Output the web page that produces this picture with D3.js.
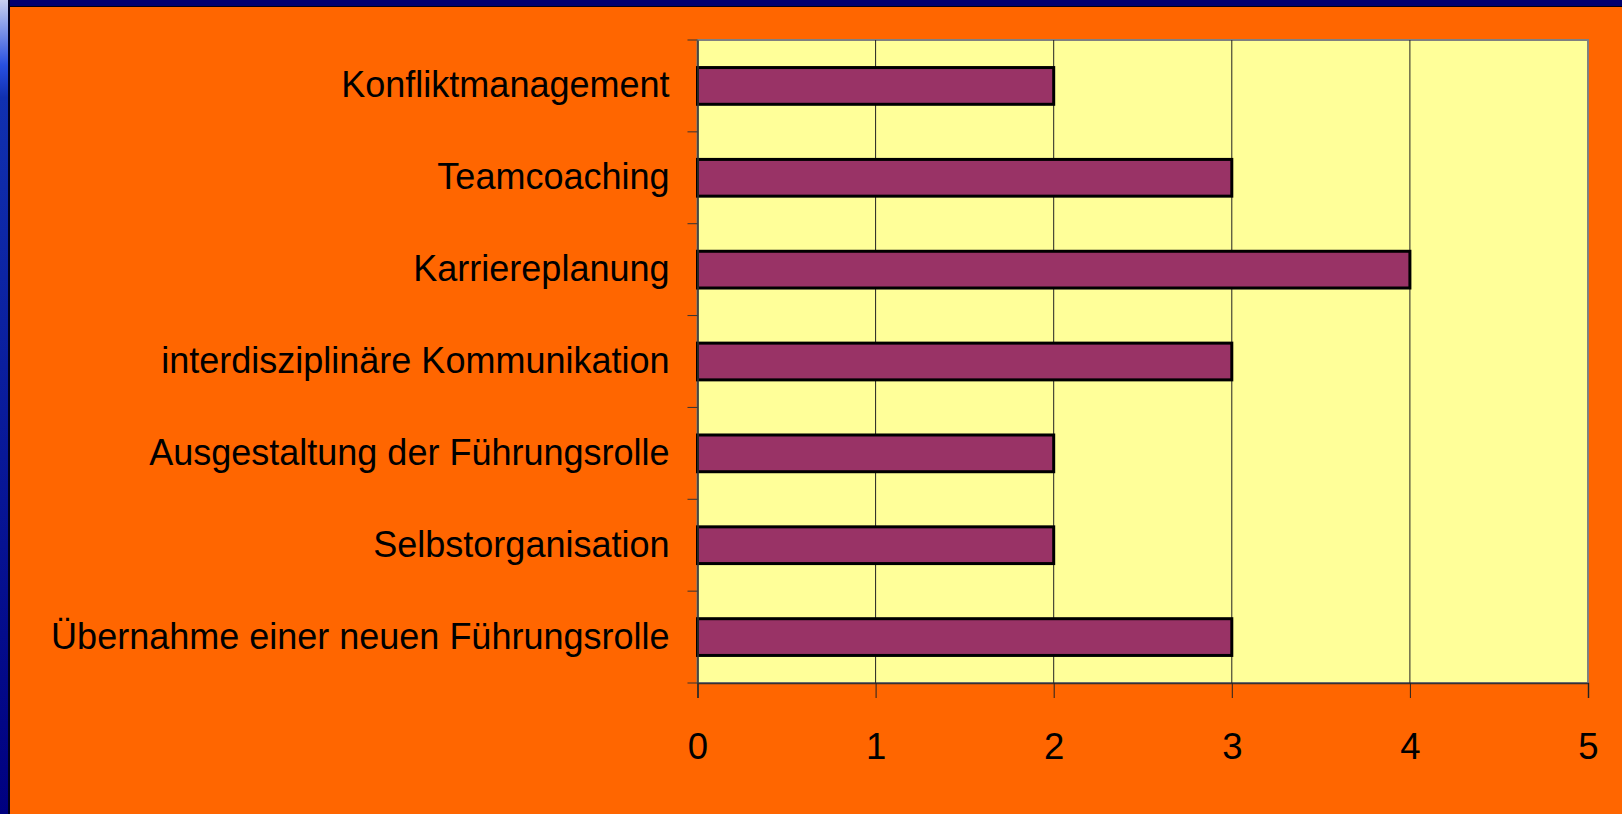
<!DOCTYPE html>
<html>
<head>
<meta charset="utf-8">
<script src="https://cdn.jsdelivr.net/npm/d3@7"></script>
<style>
  html, body { margin: 0; padding: 0; background: #FF6600; }
  svg { display: block; }
  text { font-family: "Liberation Sans", Arial, sans-serif; }
</style>
</head>
<body>
<svg id="chart" width="1622" height="814"></svg>
<script>
const categories = [
  "Konfliktmanagement",
  "Teamcoaching",
  "Karriereplanung",
  "interdisziplinäre Kommunikation",
  "Ausgestaltung der Führungsrolle",
  "Selbstorganisation",
  "Übernahme einer neuen Führungsrolle"
];
const values = [2, 3, 4, 3, 2, 2, 3];
const xTicks = [0, 1, 2, 3, 4, 5];

(function () {
const W = 1622, H = 814;
const svg = d3.select("#chart");

// frame
const defs = svg.append("defs");
const grad = defs.append("linearGradient").attr("id", "lg").attr("x1", 0).attr("y1", 0).attr("x2", 0).attr("y2", 1);
grad.append("stop").attr("offset", "0%").attr("stop-color", "#c8d0f0");
grad.append("stop").attr("offset", "8%").attr("stop-color", "#2850e0");
grad.append("stop").attr("offset", "12%").attr("stop-color", "#1030b0");
grad.append("stop").attr("offset", "100%").attr("stop-color", "#000080");
svg.append("rect").attr("x", 0).attr("y", 0).attr("width", W).attr("height", H).attr("fill", "#FF6600");
svg.append("rect").attr("x", 0).attr("y", 0).attr("width", W).attr("height", 7).attr("fill", "#000070");
svg.append("rect").attr("x", 0).attr("y", 6).attr("width", W).attr("height", 1).attr("fill", "#000010");
svg.append("rect").attr("x", 0).attr("y", 0).attr("width", 10).attr("height", H).attr("fill", "url(#lg)");
svg.append("rect").attr("x", 8).attr("y", 0).attr("width", 2).attr("height", H).attr("fill", "#000020");

const pLeft = 697.5, pRight = 1588, pTop = 40, pBottom = 683;

const x = d3.scaleLinear().domain([0, 5]).range([pLeft, pRight]);
const y = d3.scaleBand().domain(categories).range([pTop, pBottom]).paddingInner(0.6).paddingOuter(0.3);

// plot area
svg.append("rect").attr("x", pLeft).attr("y", pTop).attr("width", pRight - pLeft).attr("height", pBottom - pTop)
  .attr("fill", "#FFFF99").attr("stroke", "#808080").attr("stroke-width", 2);

// grid lines
svg.append("g").selectAll("line").data(xTicks.filter(d => d > 0 && d < 5)).join("line")
  .attr("x1", d => x(d)).attr("x2", d => x(d)).attr("y1", pTop).attr("y2", pBottom)
  .attr("stroke", "#222").attr("stroke-width", 1);

// bars
svg.append("g").selectAll("rect").data(categories).join("rect")
  .attr("x", x(0))
  .attr("y", d => y(d))
  .attr("width", (d, i) => x(values[i]) - x(0))
  .attr("height", y.bandwidth())
  .attr("fill", "#993366")
  .attr("stroke", "#000")
  .attr("stroke-width", 3);

// x axis
const xAxis = svg.append("g").attr("transform", `translate(0,${pBottom})`)
  .call(d3.axisBottom(x).tickValues(xTicks).tickFormat(d3.format("d")).tickSize(15).tickPadding(35));
xAxis.select(".domain").attr("stroke", "#333").attr("stroke-width", 1.5);
xAxis.selectAll(".tick line").attr("stroke", "#222");
xAxis.selectAll("text").attr("font-size", 36.5).attr("fill", "#000").attr("font-family", "'Liberation Sans', Arial, sans-serif");

// y axis labels
const yAxis = svg.append("g").attr("transform", `translate(${pLeft},0)`)
  .call(d3.axisLeft(y).tickSize(0).tickPadding(28));
yAxis.select(".domain").attr("stroke", "#333").attr("stroke-width", 1.5);
yAxis.selectAll("text").attr("font-size", 36).attr("fill", "#000").attr("font-family", "'Liberation Sans', Arial, sans-serif");

// category boundary ticks
const bounds = d3.range(categories.length + 1).map(i => pTop + i * y.step());
svg.append("g").selectAll("line").data(bounds).join("line")
  .attr("x1", pLeft - 10).attr("x2", pLeft).attr("y1", d => d).attr("y2", d => d)
  .attr("stroke", "#333").attr("stroke-width", 1);
})();
</script>
</body>
</html>
